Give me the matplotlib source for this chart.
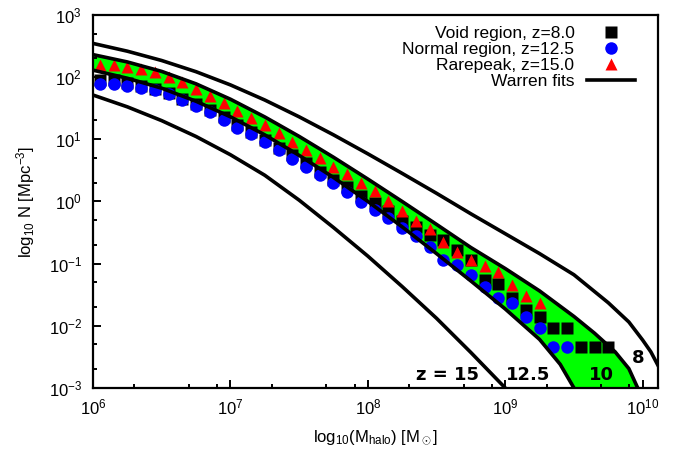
import numpy as np
import matplotlib
matplotlib.use("Agg")
import matplotlib.pyplot as plt
from matplotlib.ticker import LogLocator, NullFormatter
from matplotlib.lines import Line2D

plt.rcParams['font.family'] = ['Liberation Sans', 'DejaVu Sans']
plt.rcParams['mathtext.fontset'] = 'custom'
plt.rcParams['mathtext.rm'] = 'Liberation Sans'
plt.rcParams['mathtext.it'] = 'Liberation Sans:italic'
plt.rcParams['axes.unicode_minus'] = False

# simulation halo counts (log10 M, log10 N)
void_logm = [6.05, 6.15, 6.25, 6.35, 6.45, 6.55, 6.65, 6.75, 6.85, 6.95,
             7.05, 7.15, 7.25, 7.35, 7.45, 7.55, 7.65, 7.75, 7.85, 7.95,
             8.05, 8.15, 8.25, 8.35, 8.45, 8.55, 8.65, 8.75, 8.85, 8.95,
             9.05, 9.15, 9.25, 9.35, 9.45, 9.55, 9.65, 9.75]
void_logn = [1.955, 1.950, 1.905, 1.860, 1.800, 1.740, 1.650, 1.560, 1.470, 1.350,
             1.230, 1.120, 0.989, 0.856, 0.748, 0.615, 0.480, 0.346, 0.238, 0.089,
             -0.025, -0.160, -0.317, -0.418, -0.547, -0.625, -0.788, -0.946, -1.262, -1.335,
             -1.557, -1.745, -1.853, -2.030, -2.030, -2.335, -2.335, -2.335]

normal_logm = [6.05, 6.15, 6.25, 6.35, 6.45, 6.55, 6.65, 6.75, 6.85, 6.95,
               7.05, 7.15, 7.25, 7.35, 7.45, 7.55, 7.65, 7.75, 7.85, 7.95,
               8.05, 8.15, 8.25, 8.35, 8.45, 8.55, 8.65, 8.75, 8.85, 8.95,
               9.05, 9.15, 9.25, 9.35, 9.45]
normal_logn = [1.885, 1.885, 1.863, 1.831, 1.789, 1.724, 1.633, 1.541, 1.435, 1.311,
               1.187, 1.081, 0.952, 0.828, 0.684, 0.560, 0.426, 0.293, 0.158, -0.003,
               -0.137, -0.270, -0.421, -0.550, -0.727, -0.941, -1.021, -1.182, -1.370, -1.557,
               -1.637, -1.853, -2.039, -2.335, -2.335]

rare_logm = [6.05, 6.15, 6.25, 6.35, 6.45, 6.55, 6.65, 6.75, 6.85, 6.95,
             7.05, 7.15, 7.25, 7.35, 7.45, 7.55, 7.65, 7.75, 7.85, 7.95,
             8.05, 8.15, 8.25, 8.35, 8.45, 8.55, 8.65, 8.75, 8.85, 8.95,
             9.05, 9.15, 9.25]
rare_logn = [2.196, 2.196, 2.168, 2.131, 2.078, 2.008, 1.927, 1.810, 1.702, 1.580,
             1.461, 1.340, 1.231, 1.097, 0.962, 0.828, 0.694, 0.560, 0.438, 0.293,
             0.169, 0.013, -0.153, -0.309, -0.442, -0.646, -0.817, -0.941, -1.037, -1.129,
             -1.343, -1.515, -1.637]

# Warren fits
fit8_logm = [6.00, 6.25, 6.50, 6.75, 7.00, 7.25, 7.50, 7.75, 8.00, 8.25,
             8.50, 8.75, 9.00, 9.25, 9.50, 9.75, 9.90, 10.00, 10.06, 10.11]
fit8_logn = [2.54, 2.415, 2.265, 2.085, 1.873, 1.63, 1.36, 1.07, 0.765, 0.45,
             0.13, -0.20, -0.52, -0.84, -1.18, -1.63, -1.94, -2.23, -2.42, -2.63]

fit10_logm = [6.00, 6.25, 6.50, 6.75, 7.00, 7.25, 7.50, 7.75, 8.00, 8.25,
              8.50, 8.75, 9.00, 9.25, 9.50, 9.65, 9.80, 9.90, 9.96, 10.00]
fit10_logn = [2.36, 2.242, 2.09, 1.89, 1.643, 1.358, 1.045, 0.71, 0.359, -0.002,
              -0.37, -0.742, -1.08, -1.44, -1.85, -2.12, -2.42, -2.69, -2.98, -3.15]

fit125_logm = [6.00, 6.25, 6.50, 6.75, 7.00, 7.25, 7.50, 7.75, 8.00, 8.25,
               8.50, 8.75, 9.00, 9.25, 9.40, 9.50, 9.53]
fit125_logn = [2.11, 1.98, 1.82, 1.61, 1.36, 1.07, 0.74, 0.385, 0.0, -0.41,
               -0.84, -1.28, -1.73, -2.22, -2.62, -3.0, -3.1]

fit15_logm = [6.00, 6.25, 6.50, 6.75, 7.00, 7.25, 7.50, 7.75, 8.00, 8.25,
              8.50, 8.75, 9.00, 9.03]
fit15_logn = [1.71, 1.52, 1.298, 1.043, 0.75, 0.42, 0.02, -0.42, -0.88, -1.37,
              -1.88, -2.43, -3.0, -3.08]

z_labels = ['z = 15', '12.5', '10', '8']

fig = plt.figure(figsize=(6.74, 4.49), dpi=100)
ax = fig.add_axes([0.138, 0.136, 0.838, 0.831])

m10 = 10 ** np.array(fit10_logm)
n10 = 10 ** np.array(fit10_logn)
m125 = 10 ** np.array(fit125_logm)
n125 = 10 ** np.array(fit125_logn)
ax.fill(np.concatenate([m10, m125[::-1]]), np.concatenate([n10, n125[::-1]]),
        color='#00ff00', lw=0, zorder=1)

ax.plot(10 ** np.array(void_logm), 10 ** np.array(void_logn), 's', color='black',
        ms=9.2, mec='none', zorder=3)
ax.plot(10 ** np.array(normal_logm), 10 ** np.array(normal_logn), 'o', color='blue',
        ms=9.0, mec='none', zorder=4)
ax.plot(10 ** np.array(rare_logm), 10 ** np.array(rare_logn), '^', color='red',
        ms=8.5, mec='none', zorder=5)

for lm, ln in [(fit8_logm, fit8_logn), (fit10_logm, fit10_logn),
               (fit125_logm, fit125_logn), (fit15_logm, fit15_logn)]:
    ax.plot(10 ** np.array(lm), 10 ** np.array(ln), '-', color='black', lw=2.6,
            solid_joinstyle='round', zorder=6)

ax.set_xscale('log')
ax.set_yscale('log')
ax.set_xlim(1e6, 1.29e10)
ax.set_ylim(1e-3, 1e3)

ax.xaxis.set_minor_locator(LogLocator(base=10, subs=(2, 5, 8)))
ax.yaxis.set_minor_locator(LogLocator(base=10, subs=(2, 5)))
ax.xaxis.set_minor_formatter(NullFormatter())
ax.yaxis.set_minor_formatter(NullFormatter())
ax.tick_params(which='both', direction='in', top=False, right=False, width=1.4,
               labelsize=12)
ax.tick_params(axis='x', which='major', length=6, pad=7)
ax.tick_params(axis='y', which='major', length=6, pad=8)
ax.tick_params(which='minor', length=3)
for s in ax.spines.values():
    s.set_linewidth(1.6)

ax.set_xlabel('log$_{10}$(M$_{\\mathrm{halo}}$) [M$_\\odot$]', fontsize=12, labelpad=8)
ax.set_ylabel('log$_{10}$ N [Mpc$^{-3}$]', fontsize=12, labelpad=8)

# redshift labels of the fit curves
for lab, xf, yf in zip(z_labels, [0.627, 0.770, 0.901, 0.966], [0.035, 0.035, 0.035, 0.080]):
    ax.text(xf, yf, lab, transform=ax.transAxes, ha='center', va='center',
            fontsize=13, fontweight='bold', family='DejaVu Sans', zorder=7)

handles = [Line2D([], [], ls='none', marker='s', color='black', ms=9.2, mec='none'),
           Line2D([], [], ls='none', marker='o', color='blue', ms=9.0, mec='none'),
           Line2D([], [], ls='none', marker='^', color='red', ms=8.5, mec='none'),
           Line2D([], [], ls='-', color='black', lw=2.6)]
labels = ['Void region, z=8.0', 'Normal region, z=12.5', 'Rarepeak, z=15.0', 'Warren fits']
ax.legend(handles, labels, loc='upper right', bbox_to_anchor=(0.96, 0.97),
          frameon=False, markerfirst=False, fontsize=12.5, handlelength=2.8,
          handletextpad=0.7, labelspacing=0.05, borderpad=0, borderaxespad=0)

fig.savefig('out.png', dpi=100)
